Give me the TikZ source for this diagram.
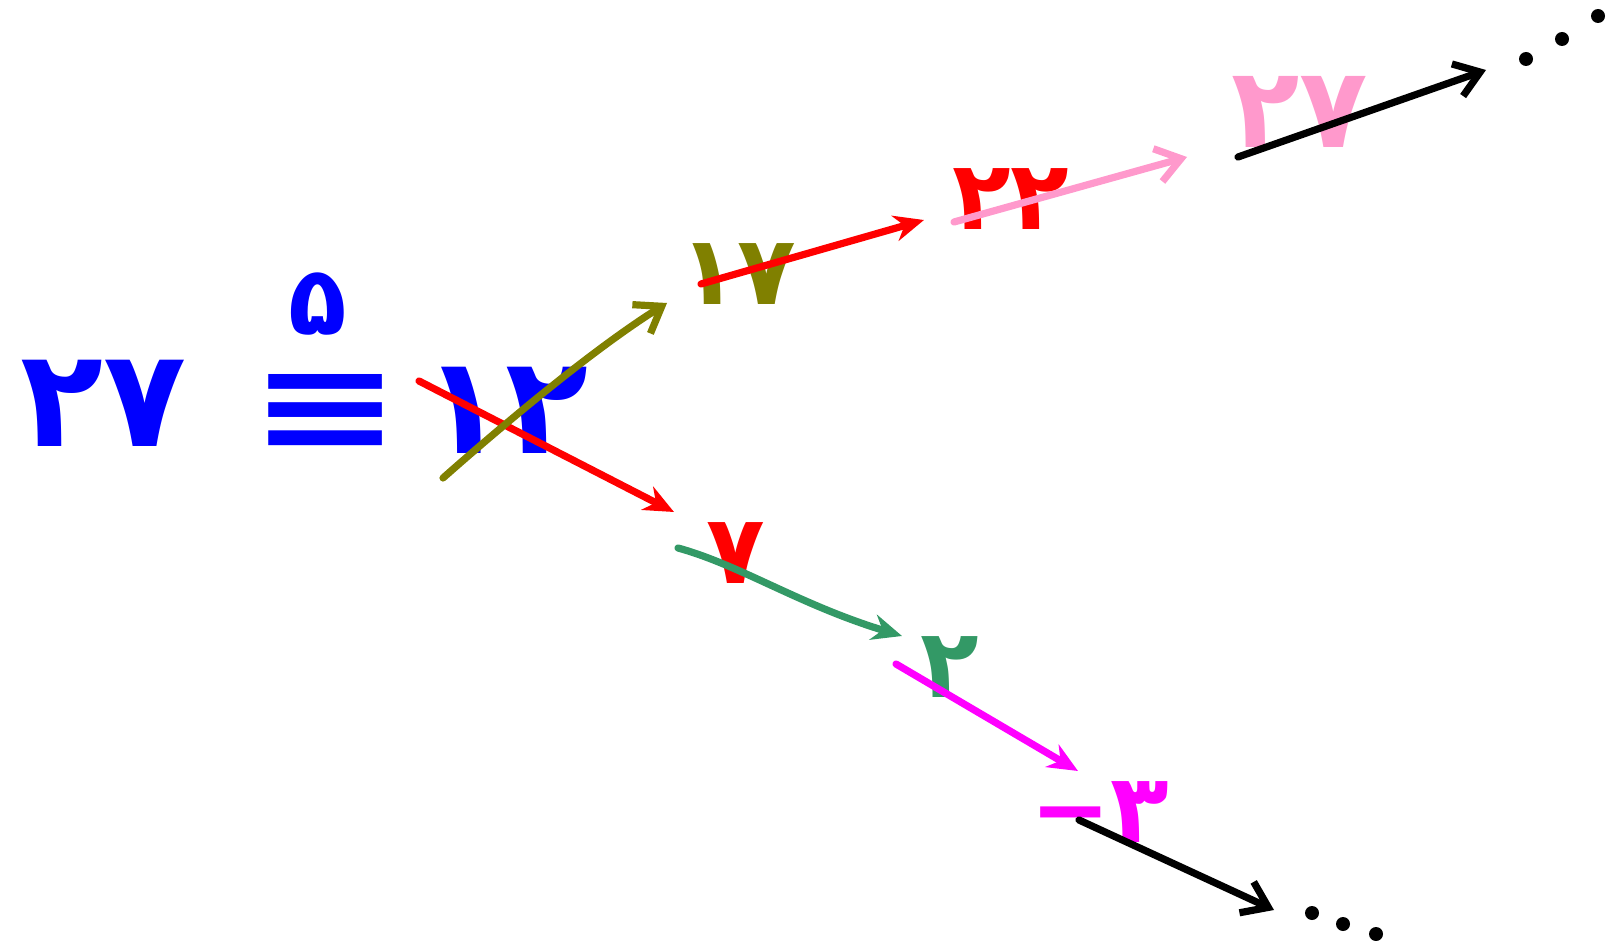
\documentclass[tikz,border=0pt]{standalone}
\usepackage{fontspec}
\newfontfamily\fa[Script=Arabic]{DejaVu Sans}
\newfontfamily\symf{DejaVu Sans}
\usetikzlibrary{arrows.meta}
\definecolor{cblue}{RGB}{0,0,255}
\definecolor{cred}{RGB}{255,0,0}
\definecolor{colive}{RGB}{128,128,0}
\definecolor{cpink}{RGB}{255,153,204}
\definecolor{cgreen}{RGB}{51,153,102}
\definecolor{cmag}{RGB}{255,0,255}
\tikzset{
  num/.style={inner sep=0pt, font=\fa\bfseries\fontsize{68}{68}\selectfont},
  smallnum/.style={inner sep=0pt, font=\fa\bfseries\fontsize{48}{48}\selectfont},
  arr/.style={line width=3.6pt, line cap=round, -{Stealth[length=15pt,width=13pt]}},
  barb/.style={line width=3.6pt, line cap=round, -{Straight Barb[length=12pt,width=17pt,line width=3.6pt]}},
  dot/.style={circle, fill=black, inner sep=0pt, minimum size=7pt}
}
\begin{document}
\begin{tikzpicture}[x=0.5pt,y=-0.5pt]
\useasboundingbox (0,0) rectangle (1622,941);
% left side
\node[num, text=cblue] (n27) at (104,403) {۲۷};
\node[inner sep=0pt, text=cblue] (eq) at (326,412) {\resizebox{76pt}{38pt}{\symf\bfseries ≡}};
\node[smallnum, text=cblue] (m5) at (318,304) {۵};
\node[num, text=cblue] (n12) at (506,410) {۱۲};
% upper branch
\node[smallnum, text=colive] (n17) at (738,274) {۱۷};
\node[smallnum, text=cred] (n22) at (1011,199) {۲۲};
\node[smallnum, text=cpink, font=\fa\bfseries\fontsize{56}{56}\selectfont] (n27b) at (1300,112) {۲۷};
% lower branch
\node[smallnum, text=cred] (n7) at (736,553) {۷};
\node[smallnum, text=cgreen] (n2) at (950,667) {۲};
\node[smallnum, text=cmag] (nm3) at (1100,812) {{\symf\bfseries −}{\fa\bfseries ۳}};
% coordinates
\coordinate (r1s) at (419,381); \coordinate (r1e) at (674,512);
\coordinate (o1s) at (443,478); \coordinate (o1e) at (667,303);
\coordinate (r2s) at (701,284); \coordinate (r2e) at (924,220);
\coordinate (p1s) at (954,222); \coordinate (p1e) at (1187,157);
\coordinate (k1s) at (1238,157); \coordinate (k1e) at (1486,70);
\coordinate (g1s) at (678,548); \coordinate (g1e) at (902,636);
\coordinate (m1s) at (896,664); \coordinate (m1e) at (1078,771);
\coordinate (k2s) at (1079,820); \coordinate (k2e) at (1274,910);
% arrows
\draw[arr, cred] (r1s) -- (r1e);
\draw[barb, colive] (o1s) .. controls (520,410) and (600,345) .. (o1e);
\draw[arr, cred] (r2s) -- (r2e);
\draw[barb, cpink] (p1s) -- (p1e);
\draw[barb, black] (k1s) -- (k1e);
\draw[arr, cgreen] (g1s) .. controls (740,565) and (800,605) .. (g1e);
\draw[arr, cmag] (m1s) -- (m1e);
\draw[barb, black] (k2s) -- (k2e);
% dots
\node[dot] (d1) at (1526,59) {};
\node[dot] (d2) at (1562,39) {};
\node[dot] (d3) at (1598,16) {};
\node[dot] (d4) at (1312,913) {};
\node[dot] (d5) at (1343,924) {};
\node[dot] (d6) at (1376,934) {};
\end{tikzpicture}
\end{document}
